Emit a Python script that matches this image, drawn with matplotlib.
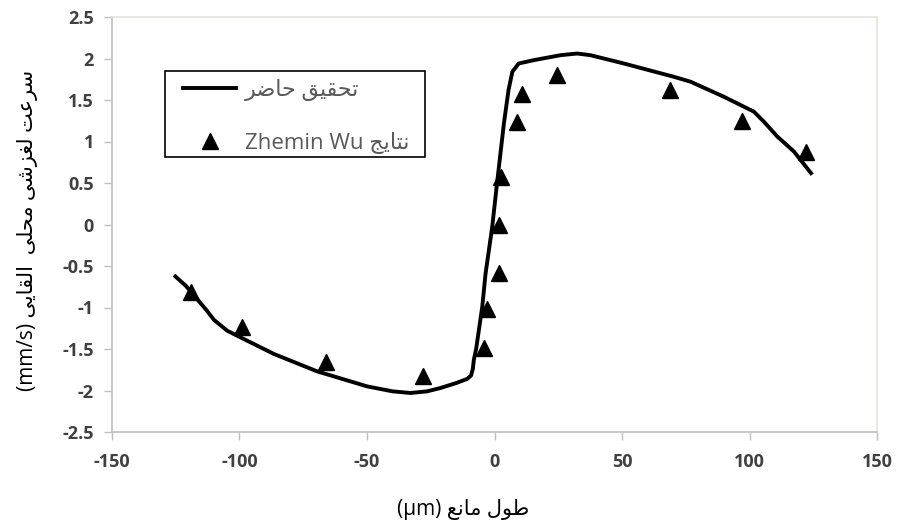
import matplotlib
matplotlib.use("Agg")
import matplotlib.pyplot as plt
from matplotlib.lines import Line2D
from matplotlib.patches import Rectangle

# ---------------- data ----------------
line_x = [-125.7, -121, -116.6, -113, -110, -104.8, -98.3, -86.5, -69.5, -50, -40, -33,
          -26.4, -21.2, -15, -10.7, -9.2, -8.5, -8.1, -7.2, -4.8, -3.5, -0.9, 1.0, 3.7,
          5.5, 7.0, 9.5, 15.4, 25.9, 32.4, 37.6, 50.7, 70.3, 76.9, 89.9, 101.7, 105.6,
          110.9, 117.4, 124.6]
line_y = [-0.61, -0.74, -0.90, -1.03, -1.15, -1.28, -1.38, -1.56, -1.77, -1.95, -2.01, -2.03,
          -2.01, -1.97, -1.91, -1.86, -1.82, -1.74, -1.63, -1.50, -0.99, -0.59, -0.03, 0.50, 1.22,
          1.62, 1.84, 1.94, 1.98, 2.04, 2.06, 2.04, 1.94, 1.78, 1.72, 1.54, 1.36, 1.24,
          1.06, 0.88, 0.60]
tri_x = [-119, -99, -66, -28, -4.3, -3, 1.6, 1.6, 2.7, 9, 10.6, 24.7, 69, 97, 122]
tri_y = [-0.81, -1.24, -1.66, -1.83, -1.49, -1.02, -0.59, 0.0, 0.57, 1.24, 1.57, 1.80, 1.62, 1.25, 0.87]
x_ticks = [-150, -100, -50, 0, 50, 100, 150]
y_ticks = [-2.5, -2, -1.5, -1, -0.5, 0, 0.5, 1, 1.5, 2, 2.5]

label_line = "تحقیق حاضر"
label_tri_fa = "نتایج"
label_tri_en = "Zhemin Wu"
xlabel_fa = "طول مانع"
xlabel_en = "(µm)"
ylabel_fa = "سرعت لغزشی محلی  القایی"
ylabel_en = "(mm/s)"

# ------------- simple Arabic/Persian shaping -------------
FORMS = {  # isolated, final, initial, medial
    'ا': ('\uFE8D', '\uFE8E', None, None),
    'ت': ('\uFE95', '\uFE96', '\uFE97', '\uFE98'),
    'ج': ('\uFE9D', '\uFE9E', '\uFE9F', '\uFEA0'),
    'ح': ('\uFEA1', '\uFEA2', '\uFEA3', '\uFEA4'),
    'ر': ('\uFEAD', '\uFEAE', None, None),
    'ز': ('\uFEAF', '\uFEB0', None, None),
    'س': ('\uFEB1', '\uFEB2', '\uFEB3', '\uFEB4'),
    'ش': ('\uFEB5', '\uFEB6', '\uFEB7', '\uFEB8'),
    'ض': ('\uFEBD', '\uFEBE', '\uFEBF', '\uFEC0'),
    'ط': ('\uFEC1', '\uFEC2', '\uFEC3', '\uFEC4'),
    'ع': ('\uFEC9', '\uFECA', '\uFECB', '\uFECC'),
    'غ': ('\uFECD', '\uFECE', '\uFECF', '\uFED0'),
    'ق': ('\uFED5', '\uFED6', '\uFED7', '\uFED8'),
    'ل': ('\uFEDD', '\uFEDE', '\uFEDF', '\uFEE0'),
    'م': ('\uFEE1', '\uFEE2', '\uFEE3', '\uFEE4'),
    'ن': ('\uFEE5', '\uFEE6', '\uFEE7', '\uFEE8'),
    'و': ('\uFEED', '\uFEEE', None, None),
    'ی': ('\uFBFC', '\uFBFD', '\uFBFE', '\uFBFF'),
}


def shape_rtl(text):
    out = []
    n = len(text)
    for i, ch in enumerate(text):
        if ch not in FORMS:
            out.append(ch)
            continue
        prev = text[i - 1] if i > 0 else ''
        nxt = text[i + 1] if i < n - 1 else ''
        join_prev = prev in FORMS and FORMS[prev][2] is not None
        join_next = nxt in FORMS and FORMS[ch][2] is not None
        f = FORMS[ch]
        if join_prev and join_next:
            out.append(f[3])
        elif join_prev:
            out.append(f[1])
        elif join_next:
            out.append(f[2])
        else:
            out.append(f[0])
    return ''.join(out)[::-1]


FAM = ['Open Sans', 'DejaVu Sans']
TEXT_GRAY = '#595959'
TICK_GRAY = '#404040'

fig = plt.figure(figsize=(8.99, 5.30), dpi=100)
ax = fig.add_axes([112 / 899, 1 - 432 / 530, (877 - 112) / 899, (432 - 17) / 530])

ax.plot(line_x, line_y, color='black', lw=2.8, solid_joinstyle='round', solid_capstyle='butt', zorder=2)
ax.plot(tri_x, tri_y, linestyle='none', marker='^', markersize=12, color='black', zorder=3)

ax.set_xlim(-150, 150)
ax.set_ylim(-2.5, 2.5)
ax.set_xticks(x_ticks)
ax.set_yticks(y_ticks)
ax.set_xticklabels([f"{v:g}" for v in x_ticks])
ax.set_yticklabels([f"{v:g}" for v in y_ticks])
for lab in ax.get_xticklabels() + ax.get_yticklabels():
    lab.set_fontfamily(FAM)
    lab.set_fontweight('bold')
    lab.set_fontsize(13)
    lab.set_color(TICK_GRAY)
ax.tick_params(axis='both', direction='out', length=6, width=1, color='#bfbfbf')
ax.tick_params(axis='x', pad=9)
ax.tick_params(axis='y', pad=7)
for s in ['top', 'right']:
    ax.spines[s].set_color('#e6e3da')
    ax.spines[s].set_linewidth(1.2)
for s in ['left', 'bottom']:
    ax.spines[s].set_color('#bfbfbf')
    ax.spines[s].set_linewidth(1.2)

fig.text(463 / 899, 1 - 510 / 530, xlabel_en + ' ' + shape_rtl(xlabel_fa), family=FAM,
         fontsize=15, ha='center', va='center', color='black')
fig.text(28 / 899, 1 - 230 / 530, ylabel_en + ' ' + shape_rtl(ylabel_fa), family=FAM,
         fontsize=15, ha='center', va='center', rotation=90, color='black')

# legend frame
fig.patches.append(Rectangle((165 / 899, 1 - 157 / 530), (425 - 165) / 899, (157 - 71) / 530,
                             transform=fig.transFigure, fill=False, edgecolor='black', lw=1.2))
handles = [Line2D([], [], color='black', lw=2.8),
           Line2D([], [], linestyle='none', marker='^', markersize=12, color='black')]
labels = [shape_rtl(label_line), label_tri_en + ' ' + shape_rtl(label_tri_fa)]
leg = ax.legend(handles, labels, loc='upper left', bbox_to_anchor=(183 / 899, 1 - 79 / 530),
                bbox_transform=fig.transFigure, frameon=False, borderpad=0, labelspacing=1.37,
                handlelength=2.4, handletextpad=0.4, borderaxespad=0,
                prop={'family': FAM, 'size': 16})
for t in leg.get_texts():
    t.set_color(TEXT_GRAY)

fig.savefig('out.png', dpi=100)
